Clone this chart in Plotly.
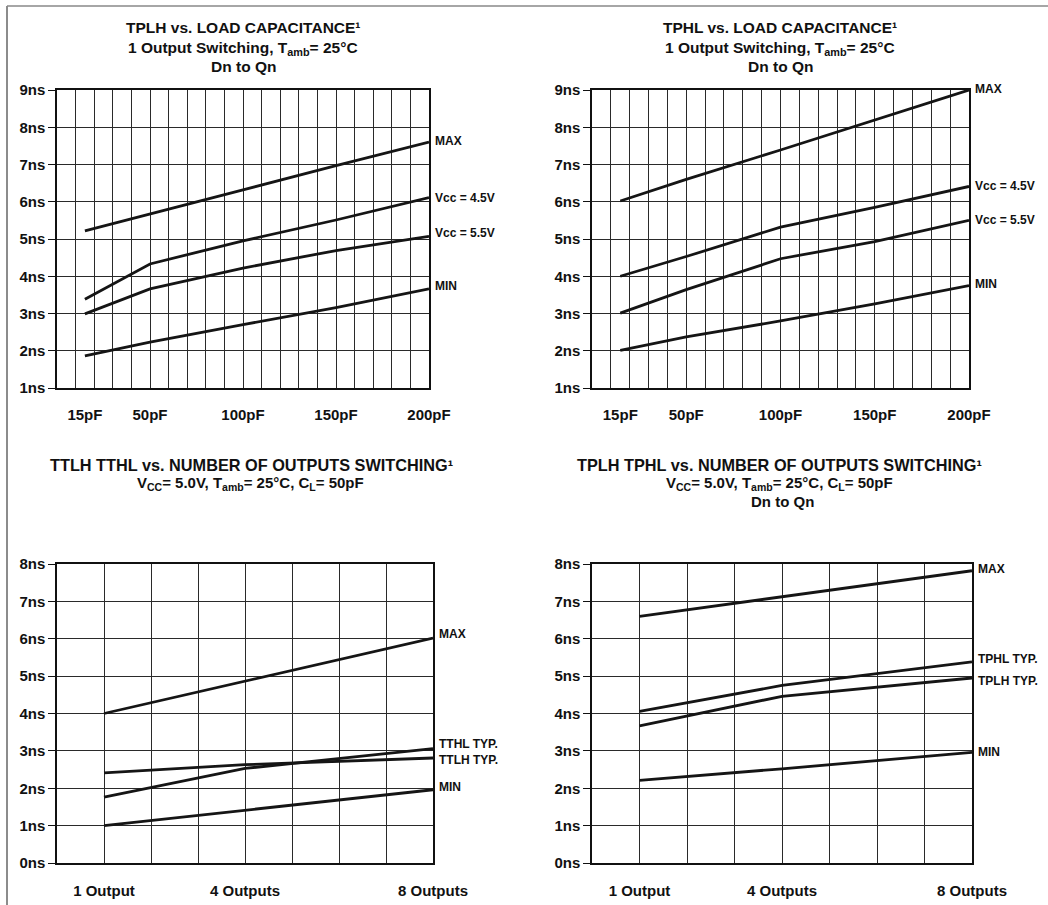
import plotly.graph_objects as go

# ---------------- data ----------------
cap_pf = [15, 50, 100, 150, 200]
cap_ticks = [15, 50, 100, 150, 200]
cap_labels = ["15pF", "50pF", "100pF", "150pF", "200pF"]

tplh_max = [5.22, 5.68, 6.32, 6.97, 7.60]
tplh_vcc45 = [3.38, 4.33, 4.95, 5.51, 6.11]
tplh_vcc55 = [2.99, 3.66, 4.22, 4.69, 5.07]
tplh_min = [1.86, 2.23, 2.70, 3.16, 3.66]

tphl_max = [6.02, 6.60, 7.39, 8.20, 9.00]
tphl_vcc45 = [4.00, 4.53, 5.32, 5.85, 6.41]
tphl_vcc55 = [3.01, 3.64, 4.47, 4.93, 5.50]
tphl_min = [2.01, 2.37, 2.80, 3.26, 3.75]

outputs = [1, 4, 8]
out_ticks = [1, 4, 8]
out_labels = ["1 Output", "4 Outputs", "8 Outputs"]

tt_max = [4.00, 4.86, 6.02]
tthl_typ = [1.76, 2.53, 3.06]
ttlh_typ = [2.41, 2.63, 2.81]
tt_min = [1.00, 1.41, 1.96]

tp_max = [6.60, 7.12, 7.82]
tphl_typ = [4.06, 4.75, 5.38]
tplh_typ = [3.67, 4.46, 4.95]
tp_min = [2.21, 2.52, 2.96]

ns_ticks_top = [1, 2, 3, 4, 5, 6, 7, 8, 9]
ns_ticks_bot = [0, 1, 2, 3, 4, 5, 6, 7, 8]

# ---------------- layout helpers ----------------
W, H = 1048, 905
FONT = "Liberation Sans, Arial, Helvetica, sans-serif"
LINE_COL = "#151515"
GRID_COL = "#2a2a2a"


def px_x(p):
    return p / W


def px_y(p):
    return 1 - p / H


fig = go.Figure()

panels = [
    ("", cap_pf, [(tplh_max, "MAX", 1), (tplh_vcc45, "Vcc = 4.5V", 0),
                  (tplh_vcc55, "Vcc = 5.5V", 3), (tplh_min, "MIN", 3)],
     (57, 429), (90, 388)),
    ("2", cap_pf, [(tphl_max, "MAX", 1), (tphl_vcc45, "Vcc = 4.5V", 0),
                   (tphl_vcc55, "Vcc = 5.5V", 0), (tphl_min, "MIN", 2)],
     (592, 969), (90, 388)),
    ("3", outputs, [(tt_max, "MAX", 4), (tthl_typ, "TTHL TYP.", 5),
                    (ttlh_typ, "TTLH TYP.", -2), (tt_min, "MIN", 3)],
     (57, 433), (564, 863)),
    ("4", outputs, [(tp_max, "MAX", 2), (tphl_typ, "TPHL TYP.", 3),
                    (tplh_typ, "TPLH TYP.", -3), (tp_min, "MIN", 0)],
     (592, 972), (564, 863)),
]

annotations = []
for suffix, xs, series, xd, yd in panels:
    xa = "x" + suffix
    ya = "y" + suffix
    for ys, label, yshift in series:
        fig.add_trace(go.Scatter(
            x=xs, y=ys, mode="lines", xaxis=xa, yaxis=ya,
            line=dict(color=LINE_COL, width=2.8), showlegend=False,
            hoverinfo="skip"))
        annotations.append(dict(
            x=xs[-1], y=ys[-1], xref=xa, yref=ya, text=label,
            showarrow=False, xanchor="left", yanchor="middle",
            xshift=4, yshift=yshift,
            font=dict(family=FONT, size=12, color="#111", weight="bold")))

axis_common = dict(
    showline=True, mirror=True, linecolor="#111", linewidth=1.5,
    showgrid=True, gridcolor=GRID_COL, gridwidth=1, zeroline=False,
    automargin=False,
    tickfont=dict(family=FONT, size=15, color="#111", weight="bold"),
)

layout_axes = {}
for i, (suffix, xs, series, xd, yd) in enumerate(panels):
    xkey = "xaxis" + suffix
    ykey = "yaxis" + suffix
    xdom = [px_x(xd[0]), px_x(xd[1])]
    ydom = [px_y(yd[1]), px_y(yd[0])]
    if i < 2:
        xa = dict(axis_common, domain=xdom, range=[0, 200],
                  tickmode="array", tickvals=cap_ticks, ticktext=cap_labels,
                  showgrid=False, ticks="outside", ticklen=12,
                  tickcolor="rgba(0,0,0,0)",
                  minor=dict(dtick=10, tick0=0, showgrid=True,
                             gridcolor=GRID_COL, gridwidth=1, ticks=""),
                  anchor="y" + suffix)
        ya = dict(axis_common, domain=ydom, range=[1, 9],
                  tickmode="array", tickvals=ns_ticks_top,
                  ticktext=[f"{v}ns" for v in ns_ticks_top],
                  ticks="outside", ticklen=7, tickcolor="#111", tickwidth=1.3,
                  anchor="x" + suffix)
    else:
        xa = dict(axis_common, domain=xdom, range=[0, 8],
                  tickmode="array", tickvals=out_ticks, ticktext=out_labels,
                  ticks="outside", ticklen=13, tickcolor="rgba(0,0,0,0)",
                  minor=dict(dtick=1, tick0=0, showgrid=True,
                             gridcolor=GRID_COL, gridwidth=1, ticks=""),
                  anchor="y" + suffix)
        ya = dict(axis_common, domain=ydom, range=[0, 8],
                  tickmode="array", tickvals=ns_ticks_bot,
                  ticktext=[f"{v}ns" for v in ns_ticks_bot],
                  ticks="outside", ticklen=7, tickcolor="#111", tickwidth=1.3,
                  anchor="x" + suffix)
    layout_axes[xkey] = xa
    layout_axes[ykey] = ya

# ---------------- titles ----------------
titles = [
    (243, 28, "TPLH vs. LOAD CAPACITANCE¹", 15.5),
    (243, 48, "1 Output Switching, T<sub>amb</sub>= 25°C", 15.5),
    (243, 67, "Dn to Qn", 15.5),
    (780, 28, "TPHL vs. LOAD CAPACITANCE¹", 15.5),
    (780, 48, "1 Output Switching, T<sub>amb</sub>= 25°C", 15.5),
    (780, 67, "Dn to Qn", 15.5),
    (251, 465, "TTLH TTHL vs. NUMBER OF OUTPUTS SWITCHING¹", 16.3),
    (250, 483, "V<sub>CC</sub>= 5.0V, T<sub>amb</sub>= 25°C, C<sub>L</sub>= 50pF", 15),
    (779, 465, "TPLH TPHL vs. NUMBER OF OUTPUTS SWITCHING¹", 16.3),
    (779, 483, "V<sub>CC</sub>= 5.0V, T<sub>amb</sub>= 25°C, C<sub>L</sub>= 50pF", 15),
    (782, 502, "Dn to Qn", 15),
]
for tx, ty, text, fs in titles:
    annotations.append(dict(
        x=px_x(tx), y=px_y(ty), xref="paper", yref="paper", text=text,
        showarrow=False, xanchor="center", yanchor="middle",
        font=dict(family=FONT, size=fs, color="#111", weight="bold")))

# page border (left and top edges of the scanned sheet)
shapes = [
    dict(type="line", xref="paper", yref="paper", x0=px_x(7), x1=px_x(7),
         y0=px_y(6), y1=px_y(905), line=dict(color="#666", width=1.5)),
    dict(type="line", xref="paper", yref="paper", x0=px_x(7), x1=px_x(1048),
         y0=px_y(6), y1=px_y(6), line=dict(color="#888", width=1.5)),
]

fig.update_layout(
    width=W, height=H,
    margin=dict(l=0, r=0, t=0, b=0),
    paper_bgcolor="white", plot_bgcolor="white",
    annotations=annotations, shapes=shapes,
    showlegend=False,
    **layout_axes,
)

fig.write_html(
    "out.html",
    config={"displayModeBar": False},
    post_script="document.body.style.margin='0';document.body.style.overflow='hidden';",
)
